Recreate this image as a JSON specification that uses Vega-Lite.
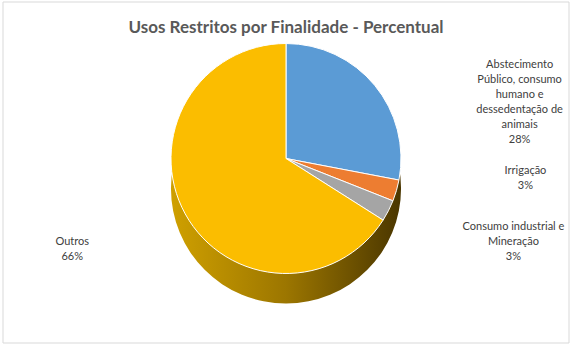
{
  "$schema": "https://vega.github.io/schema/vega-lite/v6.json",
  "width": 566,
  "height": 341,
  "autosize": "none",
  "padding": {"left": 3, "top": 2, "right": 7, "bottom": 8},
  "background": "white",
  "config": {"view": {"stroke": null}},
  "title": {
    "text": "Usos Restritos por Finalidade - Percentual",
    "anchor": "middle",
    "font": "Lato",
    "fontSize": 17,
    "fontWeight": "bold",
    "color": "#595959",
    "baseline": "alphabetic",
    "offset": -48
  },
  "data": {
    "values": [
      {"cat": "Abstecimento Público, consumo humano e dessedentação de animais", "label": "Abstecimento\nPúblico, consumo\nhumano e\ndessedentação de\nanimais\n28%", "v": 28, "o": 1},
      {"cat": "Irrigação", "label": "Irrigação\n3%", "v": 3, "o": 2},
      {"cat": "Consumo industrial e Mineração", "label": "Consumo industrial e\nMineração\n3%", "v": 3, "o": 3},
      {"cat": "Outros", "label": "Outros\n66%", "v": 66, "o": 4}
    ]
  },
  "layer": [
    {
      "data": {"values": [{}]},
      "mark": {"type": "rect", "fill": "white", "stroke": "#D9D9D9", "strokeWidth": 1},
      "encoding": {}
    },
    {
      "data": {"values": [{}]},
      "mark": {
        "type": "arc",
        "theta": 0,
        "theta2": 6.2832,
        "radius": 115,
        "yOffset": 16,
        "color": {
          "gradient": "linear",
          "x1": 0, "x2": 1, "y1": 0, "y2": 0,
          "stops": [
            {"offset": 0, "color": "#CFA000"},
            {"offset": 0.5, "color": "#9C7600"},
            {"offset": 1, "color": "#4A3600"}
          ]
        }
      },
      "encoding": {}
    },
    {
      "mark": {"type": "arc", "radius": 115, "yOffset": -14, "stroke": "white", "strokeWidth": 1},
      "encoding": {
        "theta": {"field": "v", "type": "quantitative", "stack": true},
        "order": {"field": "o", "type": "quantitative"},
        "color": {
          "field": "cat",
          "type": "nominal",
          "sort": {"field": "o"},
          "scale": {
            "domain": ["Abstecimento Público, consumo humano e dessedentação de animais", "Irrigação", "Consumo industrial e Mineração", "Outros"],
            "range": ["#5B9BD5", "#ED7D31", "#A5A5A5", "#FBBD00"]
          },
          "legend": null
        }
      }
    },
    {
      "mark": {
        "type": "text",
        "radius": 115,
        "yOffset": -14,
        "lineBreak": "\n",
        "lineHeight": 15,
        "font": "Lato",
        "fontSize": 11,
        "color": "#404040",
        "align": "center",
        "baseline": "middle",
        "dx": {"expr": "datum.o == 1 ? 145 : datum.o == 2 ? 129 : datum.o == 3 ? 125 : -113"},
        "dy": {"expr": "datum.o == 1 ? -20 : datum.o == 2 ? -20 : datum.o == 3 ? 16 : 28"}
      },
      "encoding": {
        "theta": {"field": "v", "type": "quantitative", "stack": true},
        "order": {"field": "o", "type": "quantitative"},
        "text": {"field": "label", "type": "nominal"}
      }
    }
  ]
}
